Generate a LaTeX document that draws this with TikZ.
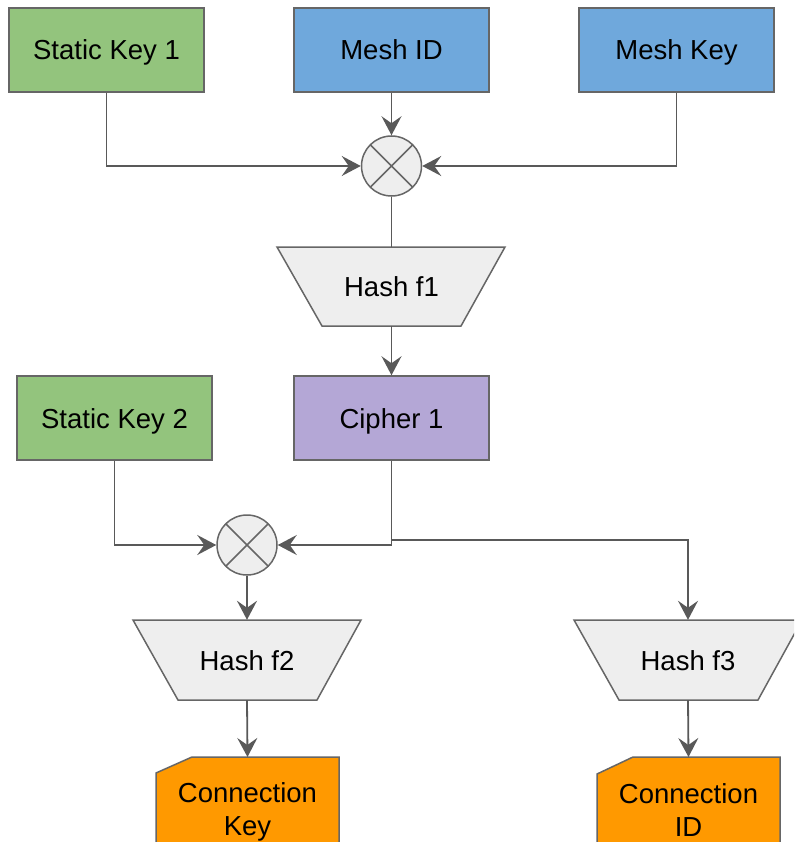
\documentclass[tikz,border=0pt]{standalone}
\usepackage{fontspec}
\setmainfont{Liberation Sans}
\usetikzlibrary{arrows.meta,shapes.geometric}
\definecolor{kgreen}{HTML}{93C47D}
\definecolor{kblue}{HTML}{6FA8DC}
\definecolor{kpurple}{HTML}{B4A7D6}
\definecolor{korange}{HTML}{FF9900}
\definecolor{kgray}{HTML}{EEEEEE}
\definecolor{kborder}{HTML}{666666}
\definecolor{kline}{HTML}{595959}
\tikzset{
  box/.style={draw=kborder, line width=1.5pt, minimum width=195pt, minimum height=84pt,
    inner sep=0pt, font=\fontsize{27.5}{32}\selectfont, text height=20pt, text depth=0pt},
  shapeline/.style={draw=kborder, line width=1.5pt},
  ghost/.style={inner sep=0pt, font=\fontsize{27.5}{32}\selectfont, text height=20pt, text depth=0pt},
  xcircle/.style={circle, draw=kborder, line width=1.5pt, fill=kgray, minimum size=60pt, inner sep=0pt,
    path picture={\draw[kborder, line width=1.5pt] (path picture bounding box.north west) -- (path picture bounding box.south east)
      (path picture bounding box.north east) -- (path picture bounding box.south west);}},
  conn/.style={draw=kline, line width=1.8pt},
  arr/.style={conn, -{Stealth[length=19pt, width=20pt, inset=7pt]}},
  cardtext/.style={align=center, inner sep=0pt, font=\fontsize{27.5}{33}\selectfont},
}
\begin{document}
\begin{tikzpicture}[x=1pt, y=-1pt]
\useasboundingbox (0,0) rectangle (794,842);
\clip (0,0) rectangle (794,842);

% top row
\node[box, fill=kgreen] (static1) at (106.5,50) {Static Key 1};
\node[box, fill=kblue] (meshid) at (391.5,50) {Mesh ID};
\node[box, fill=kblue] (meshkey) at (676.5,50) {Mesh Key};

\node[xcircle] (x1) at (391.5,166) {};

% Hash f1
\path[shapeline, fill=kgray] (277,247) -- (505,247) -- (461,326) -- (322,326) -- cycle;
\node[ghost, minimum width=228pt, minimum height=79pt] (hash1) at (391.5,286.5) {Hash f1};

% second row
\node[box, fill=kgreen] (static2) at (114.5,418) {Static Key 2};
\node[box, fill=kpurple] (cipher) at (391.5,418) {Cipher 1};

\node[xcircle] (x2) at (247,545) {};
\coordinate (split) at (391.5,540);

% Hash f2, f3
\path[shapeline, fill=kgray] (133,620) -- (361,620) -- (317,700) -- (178,700) -- cycle;
\node[ghost, minimum width=228pt, minimum height=80pt] (hash2) at (247,660) {Hash f2};
\path[shapeline, fill=kgray] (574,620) -- (802,620) -- (758,700) -- (619,700) -- cycle;
\node[ghost, minimum width=228pt, minimum height=80pt] (hash3) at (688,660) {Hash f3};

% cards
\path[shapeline, fill=korange] (156,773) -- (192,757) -- (339,757) -- (339,900) -- (156,900) -- cycle;
\node[inner sep=0pt, minimum width=183pt, minimum height=143pt, anchor=north] (ckey) at (247.5,757) {};
\node[cardtext] (ckeytext) at (247.5,812) {Connection\\Key};
\path[shapeline, fill=korange] (597,774) -- (633,757) -- (780,757) -- (780,900) -- (597,900) -- cycle;
\node[inner sep=0pt, minimum width=183pt, minimum height=143pt, anchor=north] (cid) at (688.5,757) {};
\node[cardtext] (cidtext) at (688.5,810) {Connection\\ID};

% connectors
\draw[arr] (static1.south) |- (x1.west);
\draw[arr] (meshid.south) -- (x1.north);
\draw[arr] (meshkey.south) |- (x1.east);
\draw[conn] (x1.south) -- (hash1.north);
\draw[arr] (hash1.south) -- (cipher.north);
\draw[arr] (static2.south) |- (x2.west);
\draw[arr] (cipher.south) |- (x2.east);
\draw[arr] (cipher.south) -- (split) -| (hash3.north);
\draw[arr] (x2.south) -- (hash2.north);
\draw[arr] (hash2.south) -- (ckey.north);
\draw[arr] (hash3.south) -- (cid.north);
\end{tikzpicture}
\end{document}
